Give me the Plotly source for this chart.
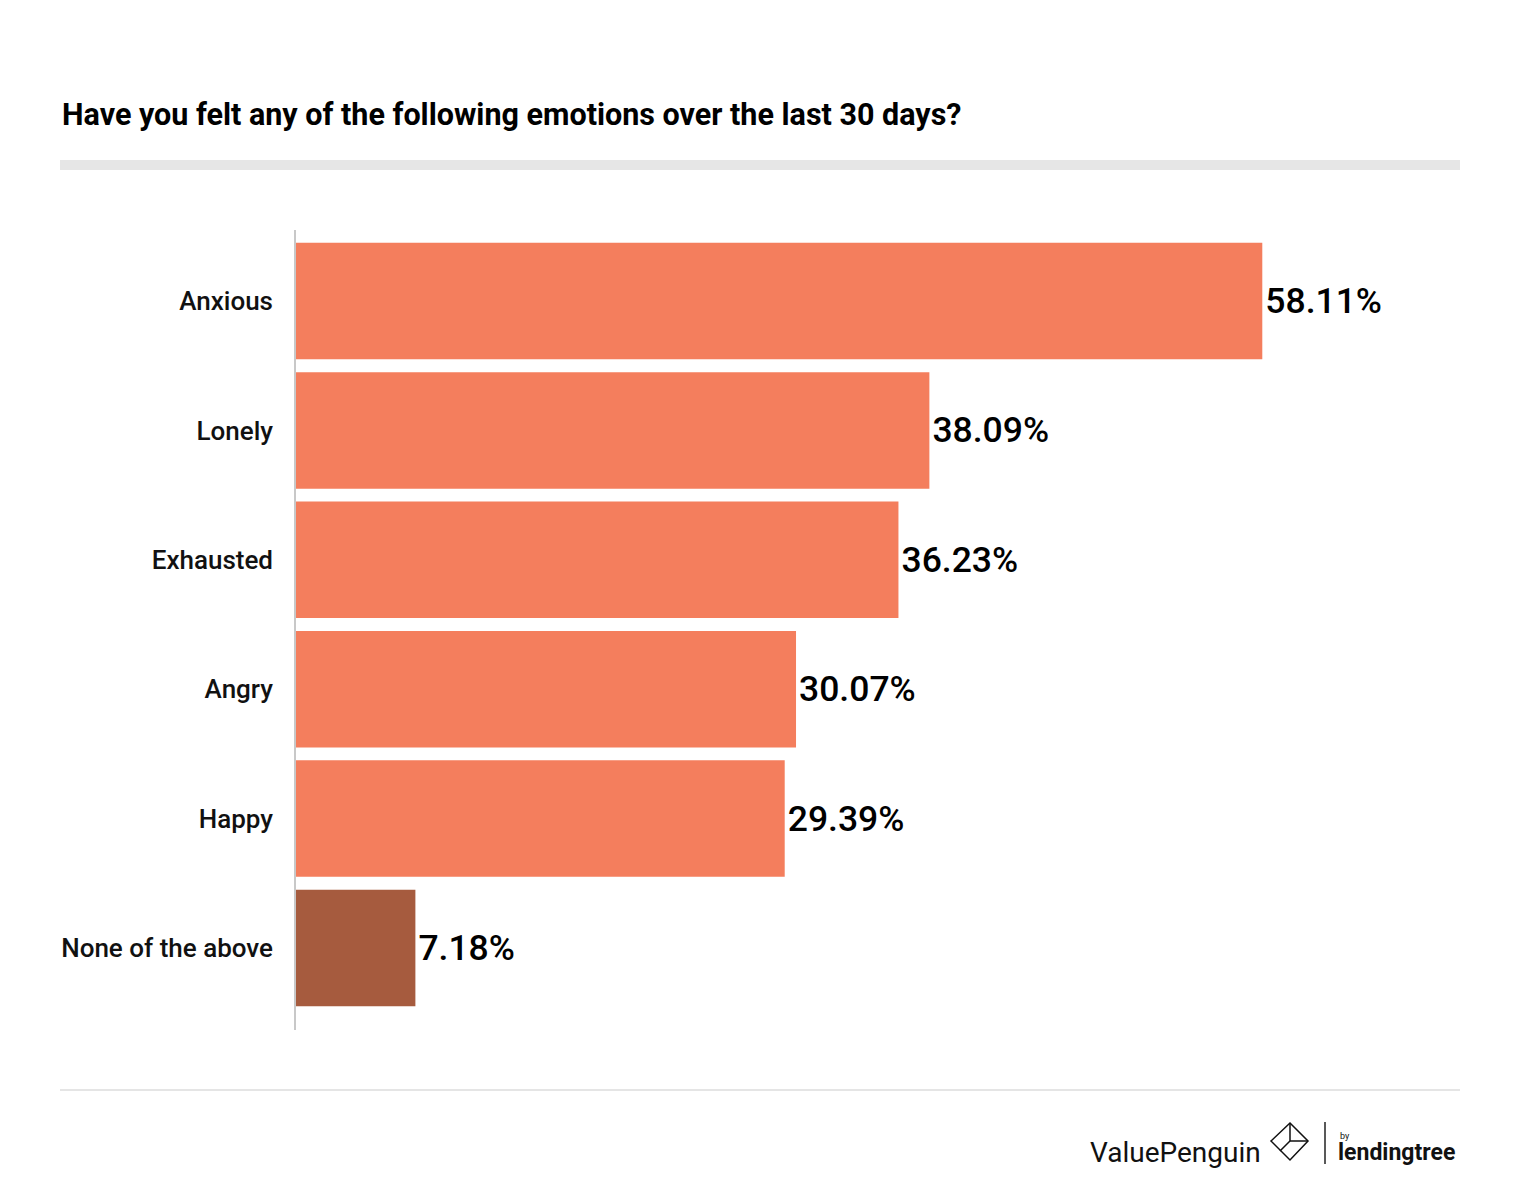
import plotly.graph_objects as go

categories = ["Anxious", "Lonely", "Exhausted", "Angry", "Happy", "None of the above"]
values = [58.11, 38.09, 36.23, 30.07, 29.39, 7.18]
colors = ["#F47E5D", "#F47E5D", "#F47E5D", "#F47E5D", "#F47E5D", "#A65B3E"]
labels = [f"{v:.2f}%" for v in values]

W, H = 1520, 1200
L, R, T, B = 296, 1460, 230, 1030

def px(x):
    return (x - L) / (R - L)

def py(y):
    return (B - y) / (B - T)

fig = go.Figure(go.Bar(
    y=categories, x=values, orientation="h",
    marker=dict(color=colors, line=dict(width=0)),
    width=0.9,
    text=labels, textposition="outside", cliponaxis=False,
    textfont=dict(family="Roboto", size=35.5, color="#000", weight=500),
    hoverinfo="skip",
))

fig.update_layout(
    width=W, height=H,
    margin=dict(l=L, r=W - R, t=T, b=H - B, pad=0),
    paper_bgcolor="white", plot_bgcolor="white",
    showlegend=False,
    bargap=0.1,
    xaxis=dict(range=[0, 70], showgrid=False, zeroline=False, showticklabels=False,
               showline=False, ticks=""),
    yaxis=dict(type="category", range=[5.634, -0.549], showgrid=False, zeroline=False,
               showline=False, ticks="", ticklabelstandoff=22,
               tickfont=dict(family="Roboto", size=26, color="#111", weight=500)),
)

shapes = []
shapes.append(dict(type="line", xref="paper", yref="paper", x0=px(295), x1=px(295),
                   y0=py(230), y1=py(1030), line=dict(color="#c8c8c8", width=2)))
shapes.append(dict(type="rect", xref="paper", yref="paper", x0=px(60), x1=px(1460),
                   y0=py(170), y1=py(160), fillcolor="#e6e6e6", line=dict(width=0)))
shapes.append(dict(type="line", xref="paper", yref="paper", x0=px(60), x1=px(1460),
                   y0=py(1090), y1=py(1090), line=dict(color="#dddddd", width=1.5)))
shapes.append(dict(type="line", xref="paper", yref="paper", x0=px(1325), x1=px(1325),
                   y0=py(1122), y1=py(1164), line=dict(color="#222", width=1.5)))

def path(points, closed=True):
    s = "M " + " L ".join(f"{px(x):.5f},{py(y):.5f}" for x, y in points)
    return s + (" Z" if closed else "")

shapes.append(dict(type="path", xref="paper", yref="paper",
                   path=path([(1290, 1123), (1308, 1141), (1290, 1160), (1271, 1141)]),
                   line=dict(color="#111", width=1.5)))
shapes.append(dict(type="path", xref="paper", yref="paper",
                   path=path([(1290, 1123), (1290, 1141), (1308, 1141)], closed=False),
                   line=dict(color="#111", width=1.5)))
shapes.append(dict(type="path", xref="paper", yref="paper",
                   path=path([(1290, 1141), (1280, 1151)], closed=False),
                   line=dict(color="#111", width=1.5)))
fig.update_layout(shapes=shapes)

annotations = [
    dict(text="<b>Have you felt any of the following emotions over the last 30 days?</b>",
         xref="paper", yref="paper", x=px(60), y=py(115), xanchor="left", yanchor="middle",
         showarrow=False, font=dict(family="Roboto", size=30.5, color="#000")),
    dict(text="ValuePenguin", xref="paper", yref="paper", x=px(1263), y=py(1152),
         xanchor="right", yanchor="middle", showarrow=False,
         font=dict(family="Roboto", size=28, color="#111")),
    dict(text="by", xref="paper", yref="paper", x=px(1338), y=py(1136),
         xanchor="left", yanchor="middle", showarrow=False,
         font=dict(family="Roboto", size=9, color="#111")),
    dict(text="<b>lendingtree</b>", xref="paper", yref="paper", x=px(1336), y=py(1152),
         xanchor="left", yanchor="middle", showarrow=False,
         font=dict(family="Roboto", size=23, color="#111")),
]
fig.update_layout(annotations=annotations)

fig.write_html("out.html", config={"displayModeBar": False},
               post_script="document.body.style.margin='0px';")
